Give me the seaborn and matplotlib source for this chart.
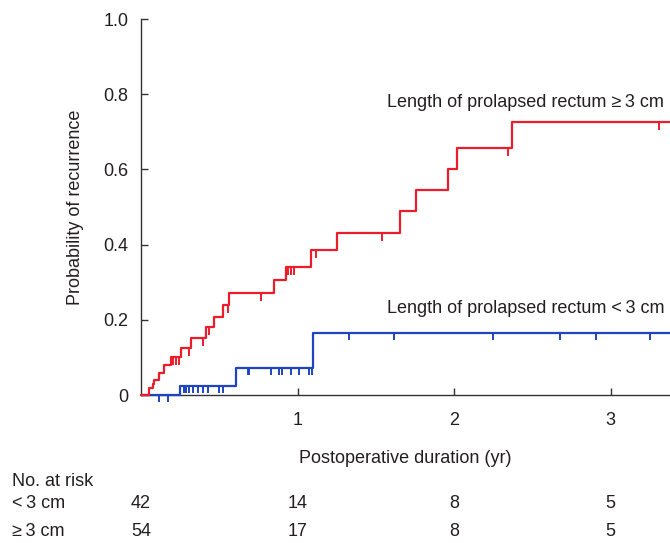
import numpy as np
import pandas as pd
import seaborn as sns
import matplotlib.pyplot as plt
from matplotlib.ticker import FixedLocator, FuncFormatter
import matplotlib.transforms as mtransforms

# ------------------------------- data ------------------------------- #
# length of prolapsed rectum >= 3 cm : event times (yr) and cumulative probability
ge3_time = [0.0, 0.053, 0.075, 0.083, 0.115, 0.147, 0.19, 0.255, 0.32, 0.415, 0.466,
            0.523, 0.562, 0.85, 0.925, 1.085, 1.25, 1.653, 1.76, 1.964, 2.02, 2.373, 3.4]
ge3_prob = [0.0, 0.018, 0.028, 0.04, 0.058, 0.08, 0.10, 0.125, 0.152, 0.18, 0.207,
            0.24, 0.27, 0.306, 0.34, 0.385, 0.43, 0.489, 0.545, 0.60, 0.657, 0.727, 0.727]
ge3_cens_time = [0.205, 0.225, 0.245, 0.306, 0.396, 0.434, 0.555, 0.766, 0.938, 0.957,
                 0.976, 1.117, 1.542, 2.347, 3.312]
ge3_cens_prob = [0.10, 0.10, 0.10, 0.125, 0.152, 0.18, 0.24, 0.27, 0.34, 0.34,
                 0.34, 0.385, 0.43, 0.657, 0.727]

# length of prolapsed rectum < 3 cm
lt3_time = [0.0, 0.251, 0.606, 1.096, 3.4]
lt3_prob = [0.0, 0.024, 0.073, 0.166, 0.166]
lt3_cens_time = [0.115, 0.172, 0.276, 0.287, 0.308, 0.33, 0.362, 0.393, 0.426, 0.50, 0.521,
                 0.681, 0.691, 0.83, 0.883, 0.904, 0.957, 1.01, 1.074, 1.091,
                 1.329, 1.616, 2.251, 2.676, 2.904, 3.25]
lt3_cens_prob = [0.0, 0.0, 0.024, 0.024, 0.024, 0.024, 0.024, 0.024, 0.024, 0.024, 0.024,
                 0.073, 0.073, 0.073, 0.073, 0.073, 0.073, 0.073, 0.073, 0.073,
                 0.166, 0.166, 0.166, 0.166, 0.166, 0.166]

# number at risk table
risk_times = [0, 1, 2, 3]
risk_lt3 = [42, 14, 8, 5]
risk_ge3 = [54, 17, 8, 5]

# ------------------------------- style ------------------------------ #
red = "#ec1c2a"
blue = "#1f44c2"
txt_color = "#231f20"
fs = 13

sns.set_style("ticks")
plt.rcParams['font.family'] = ['Liberation Sans', 'DejaVu Sans']
plt.rcParams['font.size'] = fs

fig = plt.figure(figsize=(6.7, 5.43), dpi=100)
ax = fig.add_axes([141 / 670, 1 - 395 / 543, 1 - 141 / 670, 376 / 543])

df_ge3 = pd.DataFrame({"time": ge3_time, "prob": ge3_prob})
df_lt3 = pd.DataFrame({"time": lt3_time, "prob": lt3_prob})

sns.lineplot(data=df_lt3, x="time", y="prob", drawstyle="steps-post", estimator=None,
             sort=False, color=blue, lw=1.6, ax=ax, clip_on=False, zorder=3)
sns.lineplot(data=df_ge3, x="time", y="prob", drawstyle="steps-post", estimator=None,
             sort=False, color=red, lw=1.6, ax=ax, clip_on=False, zorder=3)

# censor marks (ticks pointing down)
ax.plot(lt3_cens_time, lt3_cens_prob, ls="none", marker=3, ms=5, mew=1.4, color=blue,
        clip_on=False, zorder=3)
ax.plot(ge3_cens_time, ge3_cens_prob, ls="none", marker=3, ms=6, mew=1.4, color=red,
        clip_on=False, zorder=3)

ax.set_xlim(0, 3.38)
ax.set_ylim(0, 1.0)
sns.despine(ax=ax)
for s in ["left", "bottom"]:
    ax.spines[s].set_linewidth(1.0)
    ax.spines[s].set_color("#333333")

ax.xaxis.set_major_locator(FixedLocator([1, 2, 3]))
ax.yaxis.set_major_locator(FixedLocator([0, 0.2, 0.4, 0.6, 0.8, 1.0]))
ax.yaxis.set_major_formatter(FuncFormatter(lambda v, p: "0" if v == 0 else f"{v:.1f}"))
ax.tick_params(direction="in", length=5, width=1.0, colors="#333333",
               labelcolor=txt_color, labelsize=fs)
ax.tick_params(axis="y", pad=9)
ax.tick_params(axis="x", pad=12)

ax.set_xlabel("Postoperative duration (yr)", fontsize=fs, color=txt_color)
ax.set_ylabel("Probability of recurrence", fontsize=fs, color=txt_color)
ax.xaxis.set_label_coords(0.5, -0.168)
ax.xaxis.label.set_va("center")
ax.yaxis.set_label_coords(-0.123, 0.5)
ax.yaxis.label.set_va("center")

ax.text(3.344, 0.777, "Length of prolapsed rectum \u2265\u20093 cm", ha="right", va="center",
        fontsize=fs, color=txt_color)
ax.text(3.344, 0.231, "Length of prolapsed rectum <\u20093 cm", ha="right", va="center",
        fontsize=fs, color=txt_color)

# number at risk
trans = mtransforms.blended_transform_factory(ax.transData, fig.transFigure)
fig.text(12 / 670, 1 - 481 / 543, "No. at risk", ha="left", va="center", fontsize=fs,
         color=txt_color)
fig.text(12 / 670, 1 - 503 / 543, "<\u20093 cm", ha="left", va="center", fontsize=fs,
         color=txt_color)
fig.text(12 / 670, 1 - 531 / 543, "\u2265\u20093 cm", ha="left", va="center", fontsize=fs,
         color=txt_color)
for t, a, b in zip(risk_times, risk_lt3, risk_ge3):
    ax.text(t, 1 - 503 / 543, str(a), transform=trans, ha="center", va="center",
            fontsize=fs, color=txt_color)
    ax.text(t, 1 - 531 / 543, str(b), transform=trans, ha="center", va="center",
            fontsize=fs, color=txt_color)

fig.savefig("out.png", dpi=100)
